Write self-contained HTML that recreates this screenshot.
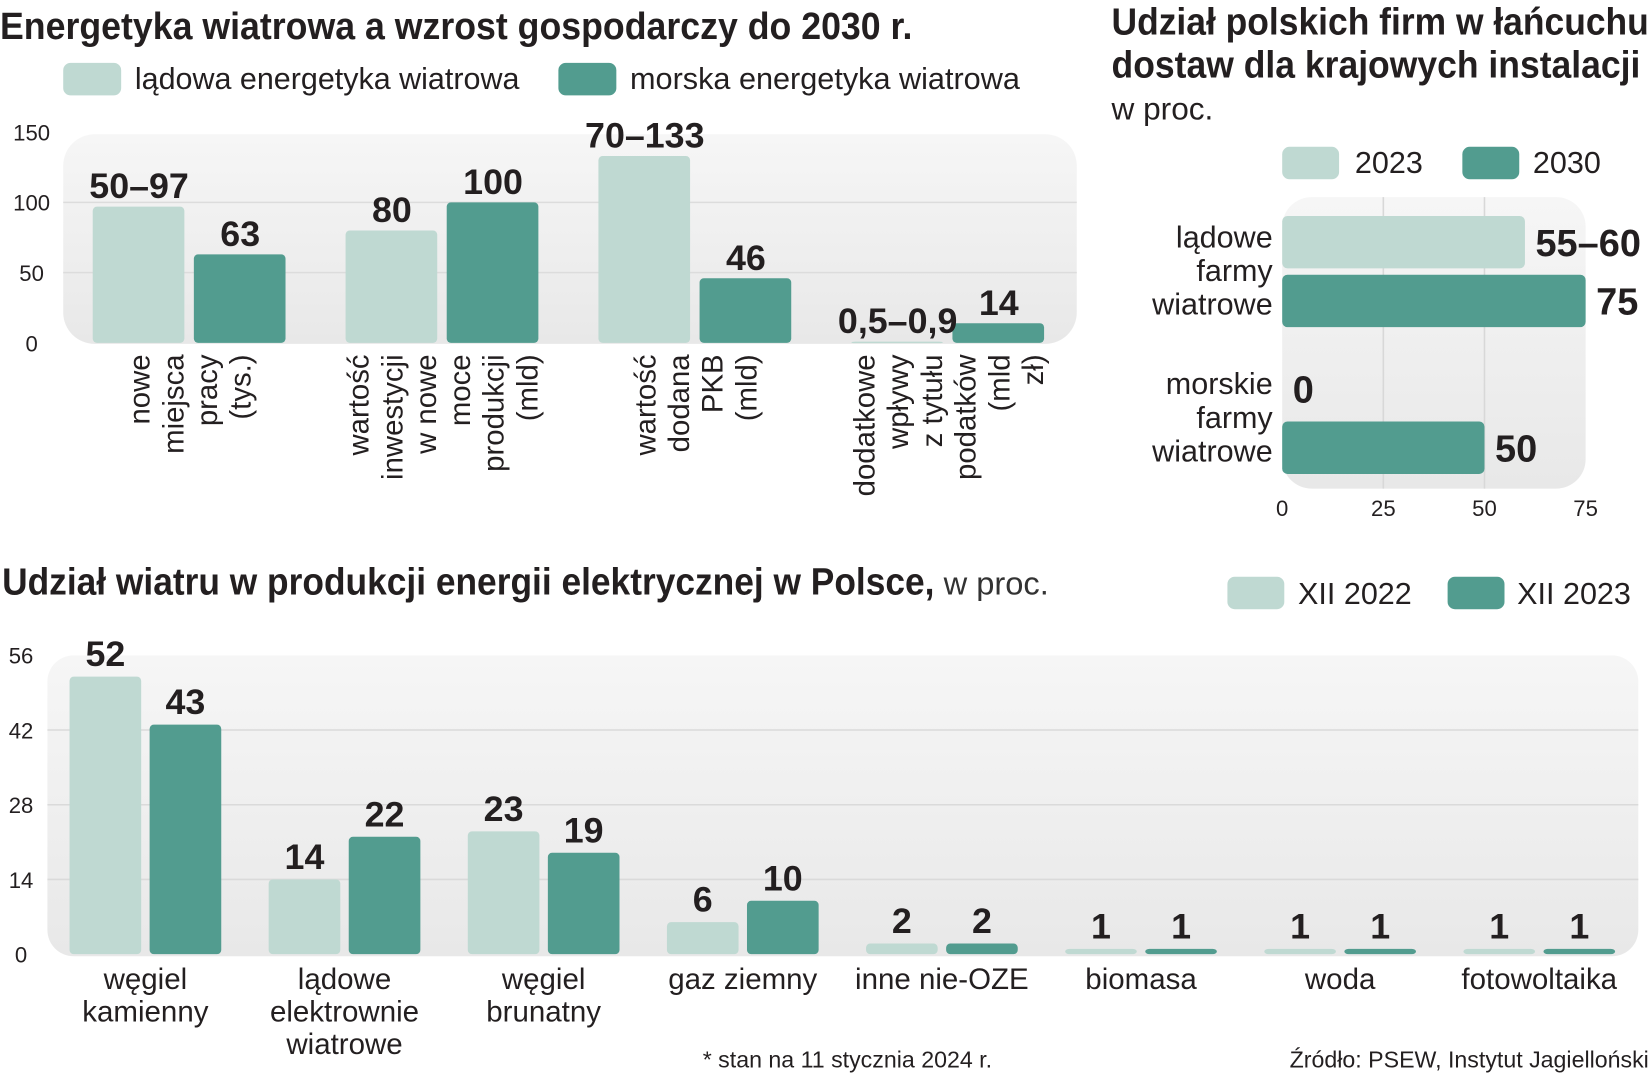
<!DOCTYPE html>
<html><head><meta charset="utf-8">
<style>
html,body{margin:0;padding:0;background:#fff;}
svg{display:block;}
text{font-family:"Liberation Sans",sans-serif;fill:#231f20;}
.b{font-family:"Liberation Sans Narrow","Liberation Sans",sans-serif;font-weight:bold;}
.n{font-family:"Liberation Sans Narrow","Liberation Sans",sans-serif;}
</style></head>
<body>
<svg id="root" width="1652" height="1080" viewBox="0 0 1568 1030" preserveAspectRatio="none" xmlns="http://www.w3.org/2000/svg">
<defs>
<linearGradient id="pg" x1="0" y1="0" x2="0" y2="1"><stop offset="0" stop-color="#f6f6f6"/><stop offset="1" stop-color="#e8e8e8"/></linearGradient>
</defs>
<!-- Chart 1 -->
<text class="b" x="0" y="37" font-size="36" textLength="866" lengthAdjust="spacingAndGlyphs">Energetyka wiatrowa a wzrost gospodarczy do 2030 r.</text>
<rect x="60" y="60" width="55" height="31" rx="7" fill="#bfd9d2"/>
<text x="128" y="85" font-size="29" textLength="365" lengthAdjust="spacingAndGlyphs" fill="#333">lądowa energetyka wiatrowa</text>
<rect x="530" y="60" width="55" height="31" rx="7" fill="#529c8f"/>
<text x="598" y="85" font-size="29" textLength="370" lengthAdjust="spacingAndGlyphs" fill="#333">morska energetyka wiatrowa</text>
<rect x="60" y="128" width="962" height="200" rx="30" fill="url(#pg)"/>
<g id="c1"></g>
<!-- Chart 2 -->
<text class="b" x="1055" y="33" font-size="36" textLength="510" lengthAdjust="spacingAndGlyphs">Udział polskich firm w łańcuchu</text>
<text class="b" x="1055" y="74" font-size="36" textLength="502" lengthAdjust="spacingAndGlyphs">dostaw dla krajowych instalacji</text>
<text x="1055" y="114" font-size="30" fill="#333">w proc.</text>
<rect x="1217" y="140" width="54" height="31" rx="7" fill="#bfd9d2"/>
<text x="1286" y="165" font-size="29" fill="#333">2023</text>
<rect x="1388" y="140" width="54" height="31" rx="7" fill="#529c8f"/>
<text x="1455" y="165" font-size="29" fill="#333">2030</text>
<rect x="1217" y="188" width="288" height="278" rx="28" fill="url(#pg)"/>
<g id="c2"></g>
<!-- Chart 3 -->
<text x="2" y="567" font-size="36"><tspan class="b" textLength="885" lengthAdjust="spacingAndGlyphs">Udział wiatru w produkcji energii elektrycznej w Polsce,</tspan><tspan fill="#333" font-size="31"> w proc.</tspan></text>
<rect x="1165" y="550" width="54" height="31" rx="7" fill="#bfd9d2"/>
<text x="1232" y="576" font-size="29" fill="#333">XII 2022</text>
<rect x="1374" y="550" width="54" height="31" rx="7" fill="#529c8f"/>
<text x="1440" y="576" font-size="29" fill="#333">XII 2023</text>
<rect x="45" y="625" width="1510" height="287" rx="25" fill="url(#pg)"/>
<g id="c3"></g>
<text x="667" y="1018" font-size="22" fill="#333">* stan na 11 stycznia 2024 r.</text>
<text x="1565" y="1018" font-size="22" text-anchor="end" fill="#333">Źródło: PSEW, Instytut Jagielloński</text>
</svg>
<script>
// ---- Chart 1 data ----
const cats1 = [["nowe","miejsca","pracy","(tys.)"],["wartość","inwestycji","w nowe","moce","produkcji","(mld)"],["wartość","dodana","PKB","(mld)"],["dodatkowe","wpływy","z tytułu","podatków","(mld","zł)"]];
const land1 = [97, 80, 133, 0.9];
const sea1 = [63, 100, 46, 14];
const landLabels1 = ["50–97","80","70–133","0,5–0,9"];
const seaLabels1 = ["63","100","46","14"];
const ticks1 = [0, 50, 100, 150];
// ---- Chart 2 data ----
const cats2 = [["lądowe","farmy","wiatrowe"],["morskie","farmy","wiatrowe"]];
const v2023 = [60, 0];
const v2030 = [75, 50];
const labels2023 = ["55–60","0"];
const labels2030 = ["75","50"];
const ticks2 = [0, 25, 50, 75];
// ---- Chart 3 data ----
const cats3 = [["węgiel","kamienny"],["lądowe","elektrownie","wiatrowe"],["węgiel","brunatny"],["gaz ziemny"],["inne nie-OZE"],["biomasa"],["woda"],["fotowoltaika"]];
const v2022 = [52, 14, 23, 6, 2, 1, 1, 1];
const v2023b = [43, 22, 19, 10, 2, 1, 1, 1];
const ticks3 = [0, 14, 28, 42, 56];

const NS = "http://www.w3.org/2000/svg";
function mk(parent, tag, attrs, txt){const e=document.createElementNS(NS,tag);for(const k in attrs)e.setAttribute(k,attrs[k]);if(txt!==undefined)e.textContent=txt;parent.appendChild(e);return e;}
const LIGHT="#bfd9d2", DARK="#529c8f";

// Chart 1
const c1=document.getElementById("c1");
const y1=v=>327-v*1.34;
const gx1=i=>180+i*240;
ticks1.forEach(t=>{
  if(t>0&&t<150){const l=mk(c1,"line",{x1:60,x2:1022,y1:y1(t),y2:y1(t),stroke:"#dcdcdc","stroke-width":1.5});
  
  }
  const tx=mk(c1,"text",{x:30,y:y1(t)+8,"font-size":21,"text-anchor":"middle",fill:"#333"},String(t));
  
  
});
cats1.forEach((lines,i)=>{
  const cx=gx1(i);
  const r1=mk(c1,"rect",{x:cx-92,y:y1(land1[i]),width:87,height:Math.max(1.5,327-y1(land1[i])),rx:4,fill:LIGHT});
  
  
  const r2=mk(c1,"rect",{x:cx+4,y:y1(sea1[i]),width:87,height:327-y1(sea1[i]),rx:4,fill:DARK});
  
  
  const t1=mk(c1,"text",{class:"b",x:cx-48,y:y1(land1[i])-8,"font-size":34,"text-anchor":"middle"},landLabels1[i]);
  
  
  const t2=mk(c1,"text",{class:"b",x:cx+48,y:y1(sea1[i])-8,"font-size":34,"text-anchor":"middle"},seaLabels1[i]);
  
  
  const n=lines.length, lh=32;
  lines.forEach((ln,j)=>{
    const x=cx-(n-1)*lh/2+j*lh+10;
    const t=mk(c1,"text",{x:x,y:338,"font-size":28,"text-anchor":"end",transform:`rotate(-90 ${x} 338)`,fill:"#222"},ln);
    
    
  });
});

// Chart 2
const c2=document.getElementById("c2");
const x2=v=>1217+v*3.84;
ticks2.forEach(t=>{
  if(t>0&&t<75){const l=mk(c2,"line",{x1:x2(t),x2:x2(t),y1:188,y2:466,stroke:"#d8d8d8","stroke-width":1.5});
  
  }
  const tx=mk(c2,"text",{x:x2(t),y:492,"font-size":21,"text-anchor":"middle",fill:"#333"},String(t));
  
  
});
cats2.forEach((lines,i)=>{
  const top=206+i*140;
  if(v2023[i]>0){const r=mk(c2,"rect",{x:1217,y:top,width:x2(v2023[i])-1217,height:50,rx:5,fill:LIGHT});
  
  }
  const r2=mk(c2,"rect",{x:1217,y:top+56,width:x2(v2030[i])-1217,height:50,rx:5,fill:DARK});
  
  
  const l1=mk(c2,"text",{class:"b",x:x2(v2023[i])+(v2023[i]>0?10:10),y:top+38,"font-size":36},labels2023[i]);
  
  
  const l2=mk(c2,"text",{class:"b",x:x2(v2030[i])+10,y:top+94,"font-size":36},labels2030[i]);
  
  
  lines.forEach((ln,j)=>{
    const t=mk(c2,"text",{x:1208,y:top+30+j*32,"font-size":29,"text-anchor":"end",fill:"#222"},ln);
    
    
  });
});

// Chart 3
const c3=document.getElementById("c3");
const y3=v=>910-v*5.09;
const gx3=i=>138+i*189;
ticks3.forEach(t=>{
  if(t>0&&t<56){const l=mk(c3,"line",{x1:45,x2:1555,y1:y3(t),y2:y3(t),stroke:"#dadada","stroke-width":1.5});
  
  }
  const tx=mk(c3,"text",{x:20,y:y3(t)+8,"font-size":21,"text-anchor":"middle",fill:"#333"},String(t));
  
  
});
cats3.forEach((lines,i)=>{
  const cx=gx3(i);
  const h1=Math.max(5,910-y3(v2022[i])), h2=Math.max(5,910-y3(v2023b[i]));
  const r1=mk(c3,"rect",{x:cx-72,y:910-h1,width:68,height:h1,rx:4,fill:LIGHT});
  
  
  const r2=mk(c3,"rect",{x:cx+4,y:910-h2,width:68,height:h2,rx:4,fill:DARK});
  
  
  const t1=mk(c3,"text",{class:"b",x:cx-38,y:910-h1-10,"font-size":34,"text-anchor":"middle"},String(v2022[i]));
  
  
  const t2=mk(c3,"text",{class:"b",x:cx+38,y:910-h2-10,"font-size":34,"text-anchor":"middle"},String(v2023b[i]));
  
  
  lines.forEach((ln,j)=>{
    const t=mk(c3,"text",{x:cx,y:943+j*31,"font-size":28,"text-anchor":"middle",fill:"#222"},ln);
    
    
  });
});
</script>
</body></html>
